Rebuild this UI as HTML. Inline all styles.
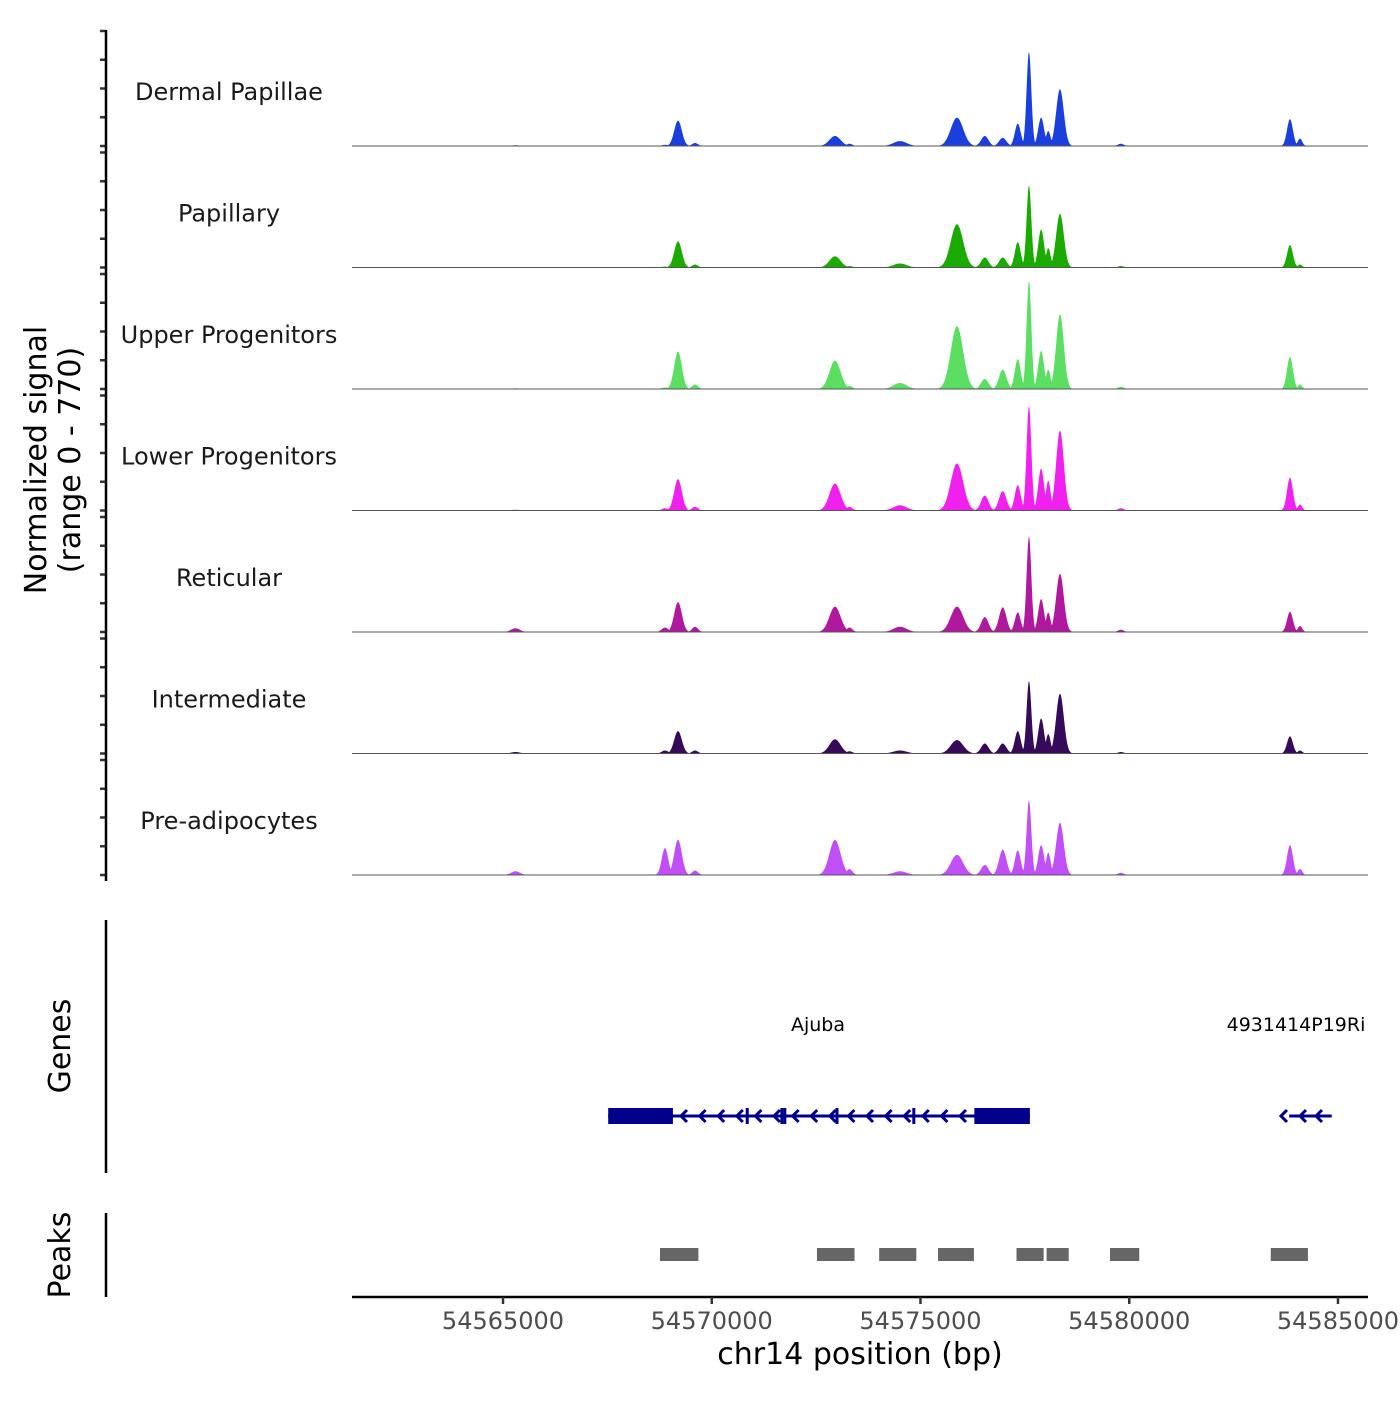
<!DOCTYPE html>
<html><head><meta charset="utf-8"><style>
body{margin:0;background:#fff;}
svg text{font-family:"DejaVu Sans","Liberation Sans",sans-serif;}
</style></head><body>
<svg id="chart" xmlns="http://www.w3.org/2000/svg" width="1400" height="1400" viewBox="0 0 1400 1400">
<g id="tracks"></g>
<g id="genes"></g>
<g id="peaks"></g>
<g id="axes"></g>
</svg>
<script>
const trackNames = ["Dermal Papillae","Papillary","Upper Progenitors","Lower Progenitors","Reticular","Intermediate","Pre-adipocytes"];
const trackColors = ["#1a3fdc","#1aaa00","#5cde62","#f020ee","#b0189e","#360a58","#c050f5"];
const peakPos = [54565300,54568880,54569192,54569600,54572952,54573300,54574509,54575874,54576540,54576970,54577330,54577598,54577890,54578060,54578341,54579800,54583850,54584090];
const peakWidth = [300,220,260,200,380,200,450,420,250,250,200,160,200,160,260,200,200,150];
const dermal   = [5,8,170,20,67,15,33,190,67,54,150,630,190,100,380,15,180,50];
const papillary= [3,6,175,20,75,10,27,290,67,67,170,550,255,130,360,10,150,20];
const upper    = [5,10,250,30,190,20,40,420,67,130,200,725,255,130,500,15,215,30];
const lower    = [5,15,210,25,180,25,35,315,100,130,170,700,280,200,535,15,220,40];
const reticular= [25,30,200,35,170,30,35,170,100,165,130,640,220,130,390,15,135,40];
const interm   = [10,20,150,20,95,15,20,90,67,67,150,485,235,130,400,10,115,20];
const preadip  = [25,180,235,30,235,40,25,135,67,170,165,500,200,150,350,15,200,40];
const trackValues = [dermal,papillary,upper,lower,reticular,interm,preadip];
const xTicks = [54565000,54570000,54575000,54580000,54585000];
const peakStarts = [54568760,54572520,54574010,54575420,54577300,54578020,54579540,54583390];
const peakEnds   = [54569680,54573420,54574900,54576280,54577950,54578550,54580240,54584280];
const exonBars = [54570850,54571680,54571750,54573000,54574840];
const ajubaStart=54567520, ajubaEnd=54577620, ajubaBlocks=[[54567520,54569070],[54576290,54577620]];
const gene2Start=54583830, gene2End=54584850;

const NS="http://www.w3.org/2000/svg";
const X0=54561383, X1=54585719, PX0=352, PX1=1368;
const xs = bp => PX0+(bp-X0)*(PX1-PX0)/(X1-X0);
const TRACK_H=121.5, BASE0=146, VMAX=770, HPX=115;
function mk(tag,attrs,parent){const e=document.createElementNS(NS,tag);for(const k in attrs)e.setAttribute(k,attrs[k]);parent.appendChild(e);return e;}
const tg=document.getElementById('tracks'), ax=document.getElementById('axes'), gg=document.getElementById('genes'), pg=document.getElementById('peaks');

trackValues.forEach((vals,ti)=>{
  const base=BASE0+ti*TRACK_H;
  const ys=v=>base-v/VMAX*HPX;
  let d=`M${PX0},${base}`;
  for(let px=PX0;px<=PX1;px+=0.5){
    let v=0;
    for(let i=0;i<peakPos.length;i++){
      const t=(xs(peakPos[i])-px)/(xs(peakPos[i]+peakWidth[i])-xs(peakPos[i]));
      const s=Math.exp(-t*t*4)*vals[i];
      if(s>v)v=s;
    }
    d+=`L${px},${ys(v).toFixed(2)}`;
  }
  d+=`L${PX1},${base}Z`;
  const p=mk('path',{d:d,fill:trackColors[ti]},tg);
  
  
  const bl=mk('line',{x1:PX0,x2:PX1,y1:base,y2:base,stroke:'#555','stroke-width':1},tg);
  
  
  const lab=mk('text',{x:229,y:base-46,'text-anchor':'middle','font-size':24,fill:'#1a1a1a'},tg);
  lab.textContent=trackNames[ti];
  
  
  for(let k=0;k<=4;k++){
    const y=base-k*HPX/4;
    const tk=mk('line',{x1:100,x2:106,y1:y,y2:y,stroke:'#333','stroke-width':2.5},ax);
    
    
  }
});
let l=mk('line',{x1:106,x2:106,y1:30,y2:881,stroke:'#000','stroke-width':2.5},ax);

let t=mk('text',{transform:'translate(52,460) rotate(-90)','text-anchor':'middle','font-size':30,fill:'#000'},ax);
t.innerHTML='<tspan x="0" dy="-6">Normalized signal</tspan><tspan x="0" dy="34">(range 0 - 770)</tspan>';


// genes
l=mk('line',{x1:106,x2:106,y1:920,y2:1173,stroke:'#000','stroke-width':2.5},ax);

t=mk('text',{transform:'translate(70,1046) rotate(-90)','text-anchor':'middle','font-size':30},ax);t.textContent='Genes';

const GY=1116;
l=mk('line',{x1:xs(ajubaStart),x2:xs(ajubaEnd),y1:GY,y2:GY,stroke:'#00008b','stroke-width':3},gg);

ajubaBlocks.forEach(b=>{const r=mk('rect',{x:xs(b[0]),y:GY-8,width:xs(b[1])-xs(b[0]),height:16,fill:'#00008b'},gg);
});
exonBars.forEach(b=>{const r=mk('rect',{x:xs(b)-1.5,y:GY-8,width:3,height:16,fill:'#00008b'},gg);
});
function chev(x){const c=mk('path',{d:`M${x+4},${GY-6}L${x-2},${GY}L${x+4},${GY+6}`,fill:'none',stroke:'#00008b','stroke-width':3},gg);
}
for(let x=683;x<965;x+=18.6)chev(x);
l=mk('line',{x1:xs(gene2Start),x2:xs(gene2End),y1:GY,y2:GY,stroke:'#00008b','stroke-width':3},gg);

[1283,1302,1318].forEach(chev);
t=mk('text',{x:818,y:1031,'text-anchor':'middle','font-size':19},gg);t.textContent='Ajuba';

t=mk('text',{x:1296,y:1031,'text-anchor':'middle','font-size':19},gg);t.textContent='4931414P19Ri';


// peaks
l=mk('line',{x1:106,x2:106,y1:1213,y2:1297,stroke:'#000','stroke-width':2.5},ax);

t=mk('text',{transform:'translate(70,1255) rotate(-90)','text-anchor':'middle','font-size':30},ax);t.textContent='Peaks';

peakStarts.forEach((s,i)=>{const r=mk('rect',{x:xs(s),y:1248,width:xs(peakEnds[i])-xs(s),height:13,fill:'#666'},pg);
});

// x axis
l=mk('line',{x1:PX0,x2:PX1,y1:1297,y2:1297,stroke:'#000','stroke-width':2.5},ax);

xTicks.forEach(v=>{const x=xs(v);
 const tk=mk('line',{x1:x,x2:x,y1:1297,y2:1304,stroke:'#333','stroke-width':2.5},ax);
 
 const tl=mk('text',{x:x,y:1329,'text-anchor':'middle','font-size':24,fill:'#4d4d4d'},ax);tl.textContent=v;
 });
t=mk('text',{x:860,y:1364,'text-anchor':'middle','font-size':30},ax);t.textContent='chr14 position (bp)';

</script>
</body></html>
